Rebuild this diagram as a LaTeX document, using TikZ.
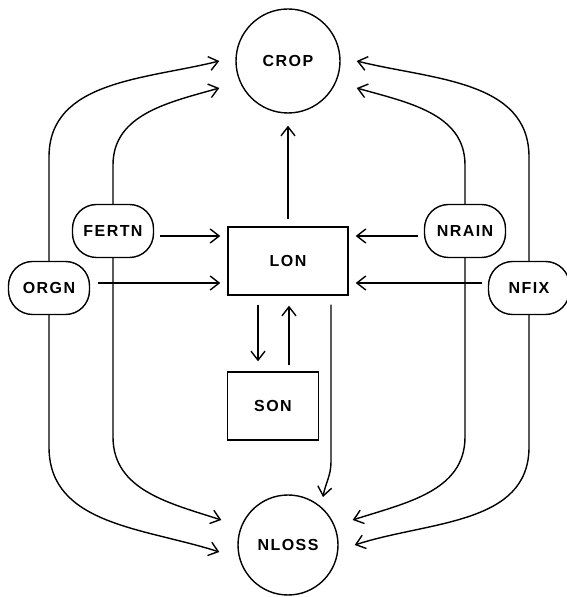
\documentclass[tikz,border=0pt]{standalone}
\usepackage{fontspec}
\newfontfamily\lblfont[LetterSpace=9]{Liberation Sans}
\usetikzlibrary{arrows.meta,calc}

\tikzset{
  every node/.style={font=\lblfont\bfseries\fontsize{16}{19}\selectfont},
  flow/.style={line width=1.4pt,-{Straight Barb[length=9pt,width=14pt]}},
  sink/.style={draw,line width=1.4pt,circle,minimum size=104pt,inner sep=0pt},
  pool/.style={draw,line width=1.4pt,rectangle,minimum width=120pt,minimum height=68pt},
  source/.style={draw,line width=1.4pt,rounded corners=24pt,minimum width=81pt,minimum height=53pt,inner sep=0pt},
}

\begin{document}
\begin{tikzpicture}[x=1pt,y=1pt]
        \useasboundingbox (0,0) rectangle (567,597);
        \node[sink] (crop) at (288,536) {CROP};
        \node[sink,minimum size=100pt] (nloss) at (288,52) {NLOSS};
        \node[pool] (lon) at (288,336) {LON};
        \node[pool,minimum width=91pt] (son) at (273,191) {SON};
        \node[source] (fertn) at (113,366) {FERTN};
        \node[source] (nrain) at (465,366) {NRAIN};
        \node[source] (orgn) at (49,309) {ORGN};
        \node[source] (nfix) at (529,309) {NFIX};

        \draw[flow,shorten <=6pt,shorten >=7pt] ([yshift=-5pt]fertn.east) -- ([yshift=-5pt]fertn.east -| lon.west);
        \draw[flow,shorten <=8pt,shorten >=7pt] ([yshift=5pt]orgn.east) -- ([yshift=5pt]orgn.east -| lon.west);
        \draw[flow,shorten <=6pt,shorten >=7pt] ([yshift=-5pt]nrain.west) -- ([yshift=-5pt]nrain.west -| lon.east);
        \draw[flow,shorten <=6pt,shorten >=7pt] ([yshift=5pt]nfix.west) -- ([yshift=5pt]nfix.west -| lon.east);

        \draw[flow,shorten <=7pt,shorten >=12pt] (lon.north) -- (crop.south);
        \draw[flow,shorten <=9pt,shorten >=10pt] ([xshift=-30pt]lon.south) -- ([xshift=-30pt]lon.south |- son.north);
        \draw[flow,shorten <=6pt,shorten >=10pt] ([xshift=16pt]son.north) -- ([xshift=16pt]son.north |- lon.south);
        \draw[flow,shorten <=9pt] ([xshift=43pt]lon.south) -- ++(0,-166) to[out=-90,in=80] ($(nloss.center)+(35,48)$);

        \draw[flow] (orgn.north) -- (49,440) to[out=90,in=194] ($(crop.west)+(-16,0)$);
        \draw[flow] (fertn.north) -- (113,432) to[out=90,in=196] ($(crop.west)+(-16,-27)$);
        \draw[flow] (nrain.north) -- (465,432) to[out=90,in=-16] ($(crop.east)+(16,-27)$);
        \draw[flow] (nfix.north) -- (529,440) to[out=90,in=-14] ($(crop.east)+(16,0)$);

        \draw[flow] (orgn.south) -- (49,150) to[out=-90,in=162] ($(nloss.west)+(-18,-7)$);
        \draw[flow] (fertn.south) -- (113,160) to[out=-90,in=162] ($(nloss.west)+(-16,25)$);
        \draw[flow] (nrain.south) -- (465,160) to[out=-90,in=18] ($(nloss.east)+(14,25)$);
        \draw[flow] (nfix.south) -- (529,150) to[out=-90,in=18] ($(nloss.east)+(16,0)$);
      \end{tikzpicture}
\end{document}
